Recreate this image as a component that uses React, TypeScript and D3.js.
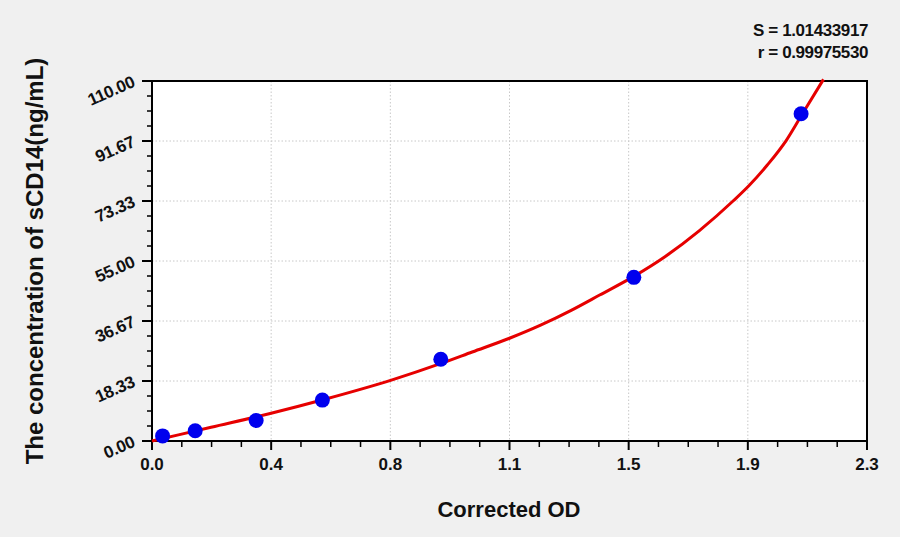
import React from "react";
import * as d3 from "d3";

// standards: corrected OD vs concentration (ng/mL)
const stdOD = [0.034, 0.139, 0.335, 0.548, 0.929, 1.55, 2.088];
const stdConc = [1.56, 3.13, 6.25, 12.5, 25, 50, 100];

// fitted curve
const fitOD = [0, 0.19, 0.38, 0.55, 0.77, 0.93, 1.03, 1.15, 1.25, 1.35, 1.44, 1.55, 1.65, 1.76, 1.87, 1.92, 1.98, 2.04, 2.09, 2.16];
const fitConc = [0, 4.2, 8.4, 12.6, 18.6, 23.7, 27.2, 31.4, 35.4, 40.0, 44.6, 50.3, 56.3, 64.2, 73.4, 78.0, 84.4, 91.8, 99.6, 110.5];

const xTickLabels = ["0.0", "0.4", "0.8", "1.1", "1.5", "1.9", "2.3"];
const yTickLabels = ["0.00", "18.33", "36.67", "55.00", "73.33", "91.67", "110.00"];

const statLines = ["S = 1.01433917", "r = 0.99975530"];

const W = 900;
const H = 537;
const plot = { left: 152, right: 867, top: 81, bottom: 441 };

const App: React.FC = () => {
  const x = d3.scaleLinear().domain([0, 2.3]).range([plot.left, plot.right]);
  const y = d3.scaleLinear().domain([0, 110]).range([plot.bottom, plot.top]);

  const nMajor = xTickLabels.length - 1;
  const xMajor = d3.range(nMajor + 1).map((i) => (i * 2.3) / nMajor);
  const yMajor = d3.range(nMajor + 1).map((i) => (i * 110) / nMajor);
  const xMinor = d3.range(nMajor * 4 + 1).filter((i) => i % 4 !== 0).map((i) => (i * 2.3) / (nMajor * 4));
  const yMinor = d3.range(nMajor * 4 + 1).filter((i) => i % 4 !== 0).map((i) => (i * 110) / (nMajor * 4));

  const fit = fitOD.map((d, i) => [d, fitConc[i]] as [number, number]);
  const line = d3
    .line<[number, number]>()
    .x((d) => x(d[0]))
    .y((d) => y(d[1]))
    .curve(d3.curveMonotoneX);

  const font = "Arial, 'Liberation Sans', sans-serif";

  return (
    <svg
      width={W}
      height={H}
      style={{ position: "absolute", left: 0, top: 0, background: "#f0f0f0" }}
      fontFamily={font}
    >
      <rect x={0} y={0} width={W} height={H} fill="#f0f0f0" />
      <rect
        x={plot.left}
        y={plot.top}
        width={plot.right - plot.left}
        height={plot.bottom - plot.top}
        fill="#fff"
      />

      {/* grid */}
      {xMajor.slice(1, -1).map((v, i) => (
        <line
          key={"gx" + i}
          x1={x(v)}
          x2={x(v)}
          y1={plot.top}
          y2={plot.bottom}
          stroke="#c8c8c8"
          strokeDasharray="1.5,2"
        />
      ))}
      {yMajor.slice(1, -1).map((v, i) => (
        <line
          key={"gy" + i}
          x1={plot.left}
          x2={plot.right}
          y1={y(v)}
          y2={y(v)}
          stroke="#c8c8c8"
          strokeDasharray="1.5,2"
        />
      ))}

      {/* ticks */}
      {xMajor.map((v, i) => (
        <line key={"xt" + i} x1={x(v)} x2={x(v)} y1={plot.bottom} y2={plot.bottom + 9} stroke="#000" strokeWidth={2} />
      ))}
      {xMinor.map((v, i) => (
        <line key={"xm" + i} x1={x(v)} x2={x(v)} y1={plot.bottom} y2={plot.bottom + 6} stroke="#000" strokeWidth={1.5} />
      ))}
      {yMajor.map((v, i) => (
        <line key={"yt" + i} x1={plot.left - 10} x2={plot.left} y1={y(v)} y2={y(v)} stroke="#000" strokeWidth={2} />
      ))}
      {yMinor.map((v, i) => (
        <line key={"ym" + i} x1={plot.left - 5} x2={plot.left} y1={y(v)} y2={y(v)} stroke="#000" strokeWidth={1.5} />
      ))}

      {/* frame */}
      <rect
        x={plot.left}
        y={plot.top}
        width={plot.right - plot.left}
        height={plot.bottom - plot.top}
        fill="none"
        stroke="#000"
        strokeWidth={2}
      />

      {/* tick labels */}
      {xMajor.map((v, i) => (
        <text
          key={"xl" + i}
          x={x(v)}
          y={470}
          textAnchor="middle"
          fontSize={17}
          fontWeight="bold"
          fill="#111"
        >
          {xTickLabels[i]}
        </text>
      ))}
      {yMajor.map((v, i) => (
        <text
          key={"yl" + i}
          transform={`translate(${plot.left - 16},${y(v) + 5}) rotate(-24)`}
          textAnchor="end"
          fontSize={17}
          fontWeight="bold"
          letterSpacing={-0.3}
          fill="#111"
        >
          {yTickLabels[i]}
        </text>
      ))}

      {/* fitted curve */}
      <path d={line(fit) ?? ""} fill="none" stroke="#e60000" strokeWidth={3} />

      {/* standards */}
      {stdOD.map((d, i) => (
        <circle key={"p" + i} cx={x(d)} cy={y(stdConc[i])} r={7.5} fill="#0000ee" />
      ))}

      {/* stats */}
      {statLines.map((s, i) => (
        <text
          key={"s" + i}
          x={868}
          y={36 + i * 22}
          textAnchor="end"
          fontSize={17}
          fontWeight="bold"
          letterSpacing={-0.4}
          fill="#111"
        >
          {s}
        </text>
      ))}

      {/* axis titles */}
      <text x={509} y={517} textAnchor="middle" fontSize={22} fontWeight="bold" fill="#111">
        Corrected OD
      </text>
      <text
        transform={`translate(43,261) rotate(-90)`}
        textAnchor="middle"
        fontSize={24}
        fontWeight="bold"
        fill="#111"
      >
        The concentration of sCD14(ng/mL)
      </text>
    </svg>
  );
};

export default App;
